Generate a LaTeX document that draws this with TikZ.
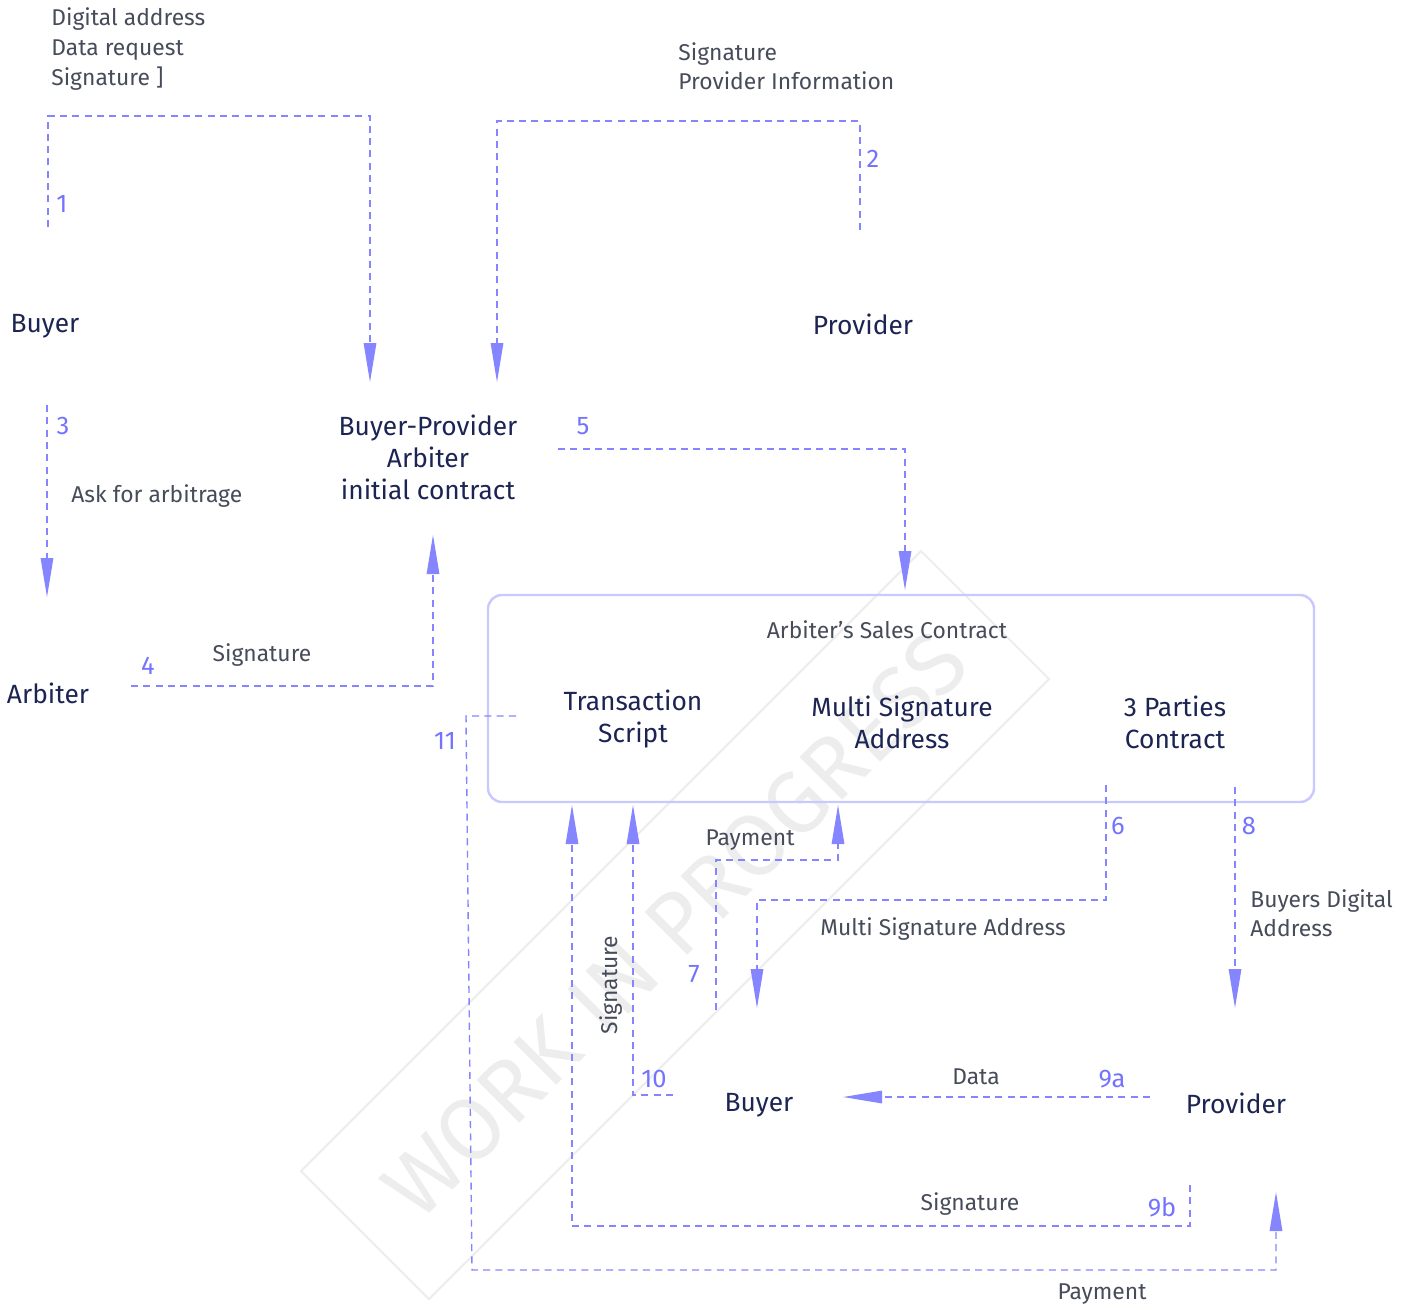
\documentclass[tikz,border=0pt]{standalone}
\usepackage{fontspec}
\setmainfont{Fira Sans}
\usetikzlibrary{arrows.meta}

\definecolor{navy}{HTML}{1B2452}
\definecolor{slate}{HTML}{474C5A}
\definecolor{violet}{HTML}{7373FF}
\definecolor{flowline}{HTML}{8585FF}
\definecolor{boxline}{HTML}{C9C9FF}
\definecolor{wmgray}{HTML}{EDEDED}

\begin{document}
\begin{tikzpicture}[
  x=0.2mm, y=-0.2mm,
  party/.style={text=navy, font=\fontsize{15}{18.2}\selectfont, align=center, inner sep=0pt},
  note/.style={text=slate, font=\fontsize{13}{16.8}\selectfont, align=left, inner sep=0pt},
  num/.style={text=violet, font=\fontsize{14.5}{16}\selectfont, inner sep=0pt},
  flow/.style={draw=flowline, line width=0.8pt, dash pattern=on 4pt off 3pt},
  tip/.style={-{Triangle[length=7.8mm, width=2.5mm, color=flowline]}},
  contract/.style={draw=boxline, line width=1.4pt, rounded corners=2.8mm}
]
\useasboundingbox (0,0) rectangle (1412,1309);

% watermark
\draw[draw=wmgray, line width=1.2pt] (921,551) -- (1049,679) -- (429,1299) -- (301,1171) -- cycle;
\node[text=wmgray, rotate=45, font=\fontsize{50}{50}\selectfont] (wip) at (675,925) {WORK IN PROGRESS};

% parties
\node[party] (buyer) at (45,326) {Buyer};
\node[party] (provider) at (863,324) {Provider};
\node[party] (bpa) at (428,457) {Buyer-Provider\\Arbiter\\initial contract};
\node[party] (arbiter) at (48,693) {Arbiter};
\node[party] (buyer2) at (759,1105) {Buyer};
\node[party] (provider2) at (1236,1103) {Provider};

% sales contract
\draw[contract] (488,595) rectangle (1314,802);
\node[note] (sales) at (887,630) {Arbiter’s Sales Contract};
\node[party] (script) at (633,719) {Transaction\\Script};
\node[party] (msa) at (902,722) {Multi Signature\\Address};
\node[party] (three) at (1175,722) {3 Parties\\Contract};

% messages
\node[note, anchor=west] (m1) at (51,49) {Digital address\\Data request\\Signature ]};
\node[note, anchor=west] (m2) at (678,66) {Signature\\Provider Information};
\node[note, anchor=west] (m3) at (71,496) {Ask for arbitrage};
\node[note] (m4) at (262,655) {Signature};
\node[note] (m7) at (750,840) {Payment};
\node[note, anchor=west] (m6) at (820,929) {Multi Signature Address};
\node[note, anchor=west] (m8) at (1250,913) {Buyers Digital\\Address};
\node[note, rotate=90] (m10) at (611,985) {Signature};
\node[note] (m9a) at (976,1077) {Data};
\node[note] (m9b) at (970,1204) {Signature};
\node[note] (m11) at (1102,1294) {Payment};

% step numbers
\node[num] (n1) at (62,204) {1};
\node[num] (n2) at (873,159) {2};
\node[num] (n3) at (63,426) {3};
\node[num] (n4) at (148,666) {4};
\node[num] (n5) at (583,426) {5};
\node[num] (n6) at (1118,826) {6};
\node[num] (n7) at (694,974) {7};
\node[num] (n8) at (1249,826) {8};
\node[num] (n9a) at (1112,1079) {9a};
\node[num] (n9b) at (1162,1207) {9b};
\node[num] (n10) at (654,1079) {10};
\node[num] (n11) at (445,741) {11};

% connector ends
\coordinate (f1s) at (48,227);   \coordinate (f1t) at (370,382);
\coordinate (f2s) at (860,230);  \coordinate (f2t) at (497,382);
\coordinate (f3s) at (47,405);   \coordinate (f3t) at (47,597);
\coordinate (f4s) at (131,686);  \coordinate (f4t) at (433,535);
\coordinate (f5s) at (558,449);  \coordinate (f5t) at (905,590);
\coordinate (f6s) at (1106,785); \coordinate (f6t) at (757,1008);
\coordinate (f7s) at (716,1010); \coordinate (f7t) at (838,805);
\coordinate (f8s) at (1235,787); \coordinate (f8t) at (1235,1008);
\coordinate (f9as) at (1150,1097); \coordinate (f9at) at (843,1097);
\coordinate (f9bs) at (1190,1185); \coordinate (f9bt) at (572,805);
\coordinate (f10s) at (673,1095); \coordinate (f10t) at (633,805);
\coordinate (f11s) at (516,716); \coordinate (f11t) at (1276,1192);

\draw[flow, tip] (f1s) -- ++(0,-111) -| (f1t);
\draw[flow, tip] (f2s) -- ++(0,-109) -| (f2t);
\draw[flow, tip] (f3s) -- (f3t);
\draw[flow, tip] (f4s) -| (f4t);
\draw[flow, tip] (f5s) -| (f5t);
\draw[flow, tip] (f6s) -- ++(0,115) -| (f6t);
\draw[flow, tip] (f7s) -- ++(0,-150) -| (f7t);
\draw[flow, tip] (f8s) -- (f8t);
\draw[flow, tip] (f9as) -- (f9at);
\draw[flow, tip] (f9bs) -- ++(0,41) -| (f9bt);
\draw[flow, tip] (f10s) -| (f10t);
\draw[flow, tip] (f11s) -- ++(-50,0) -- ++(6,554) -| (f11t);

\end{tikzpicture}
\end{document}
